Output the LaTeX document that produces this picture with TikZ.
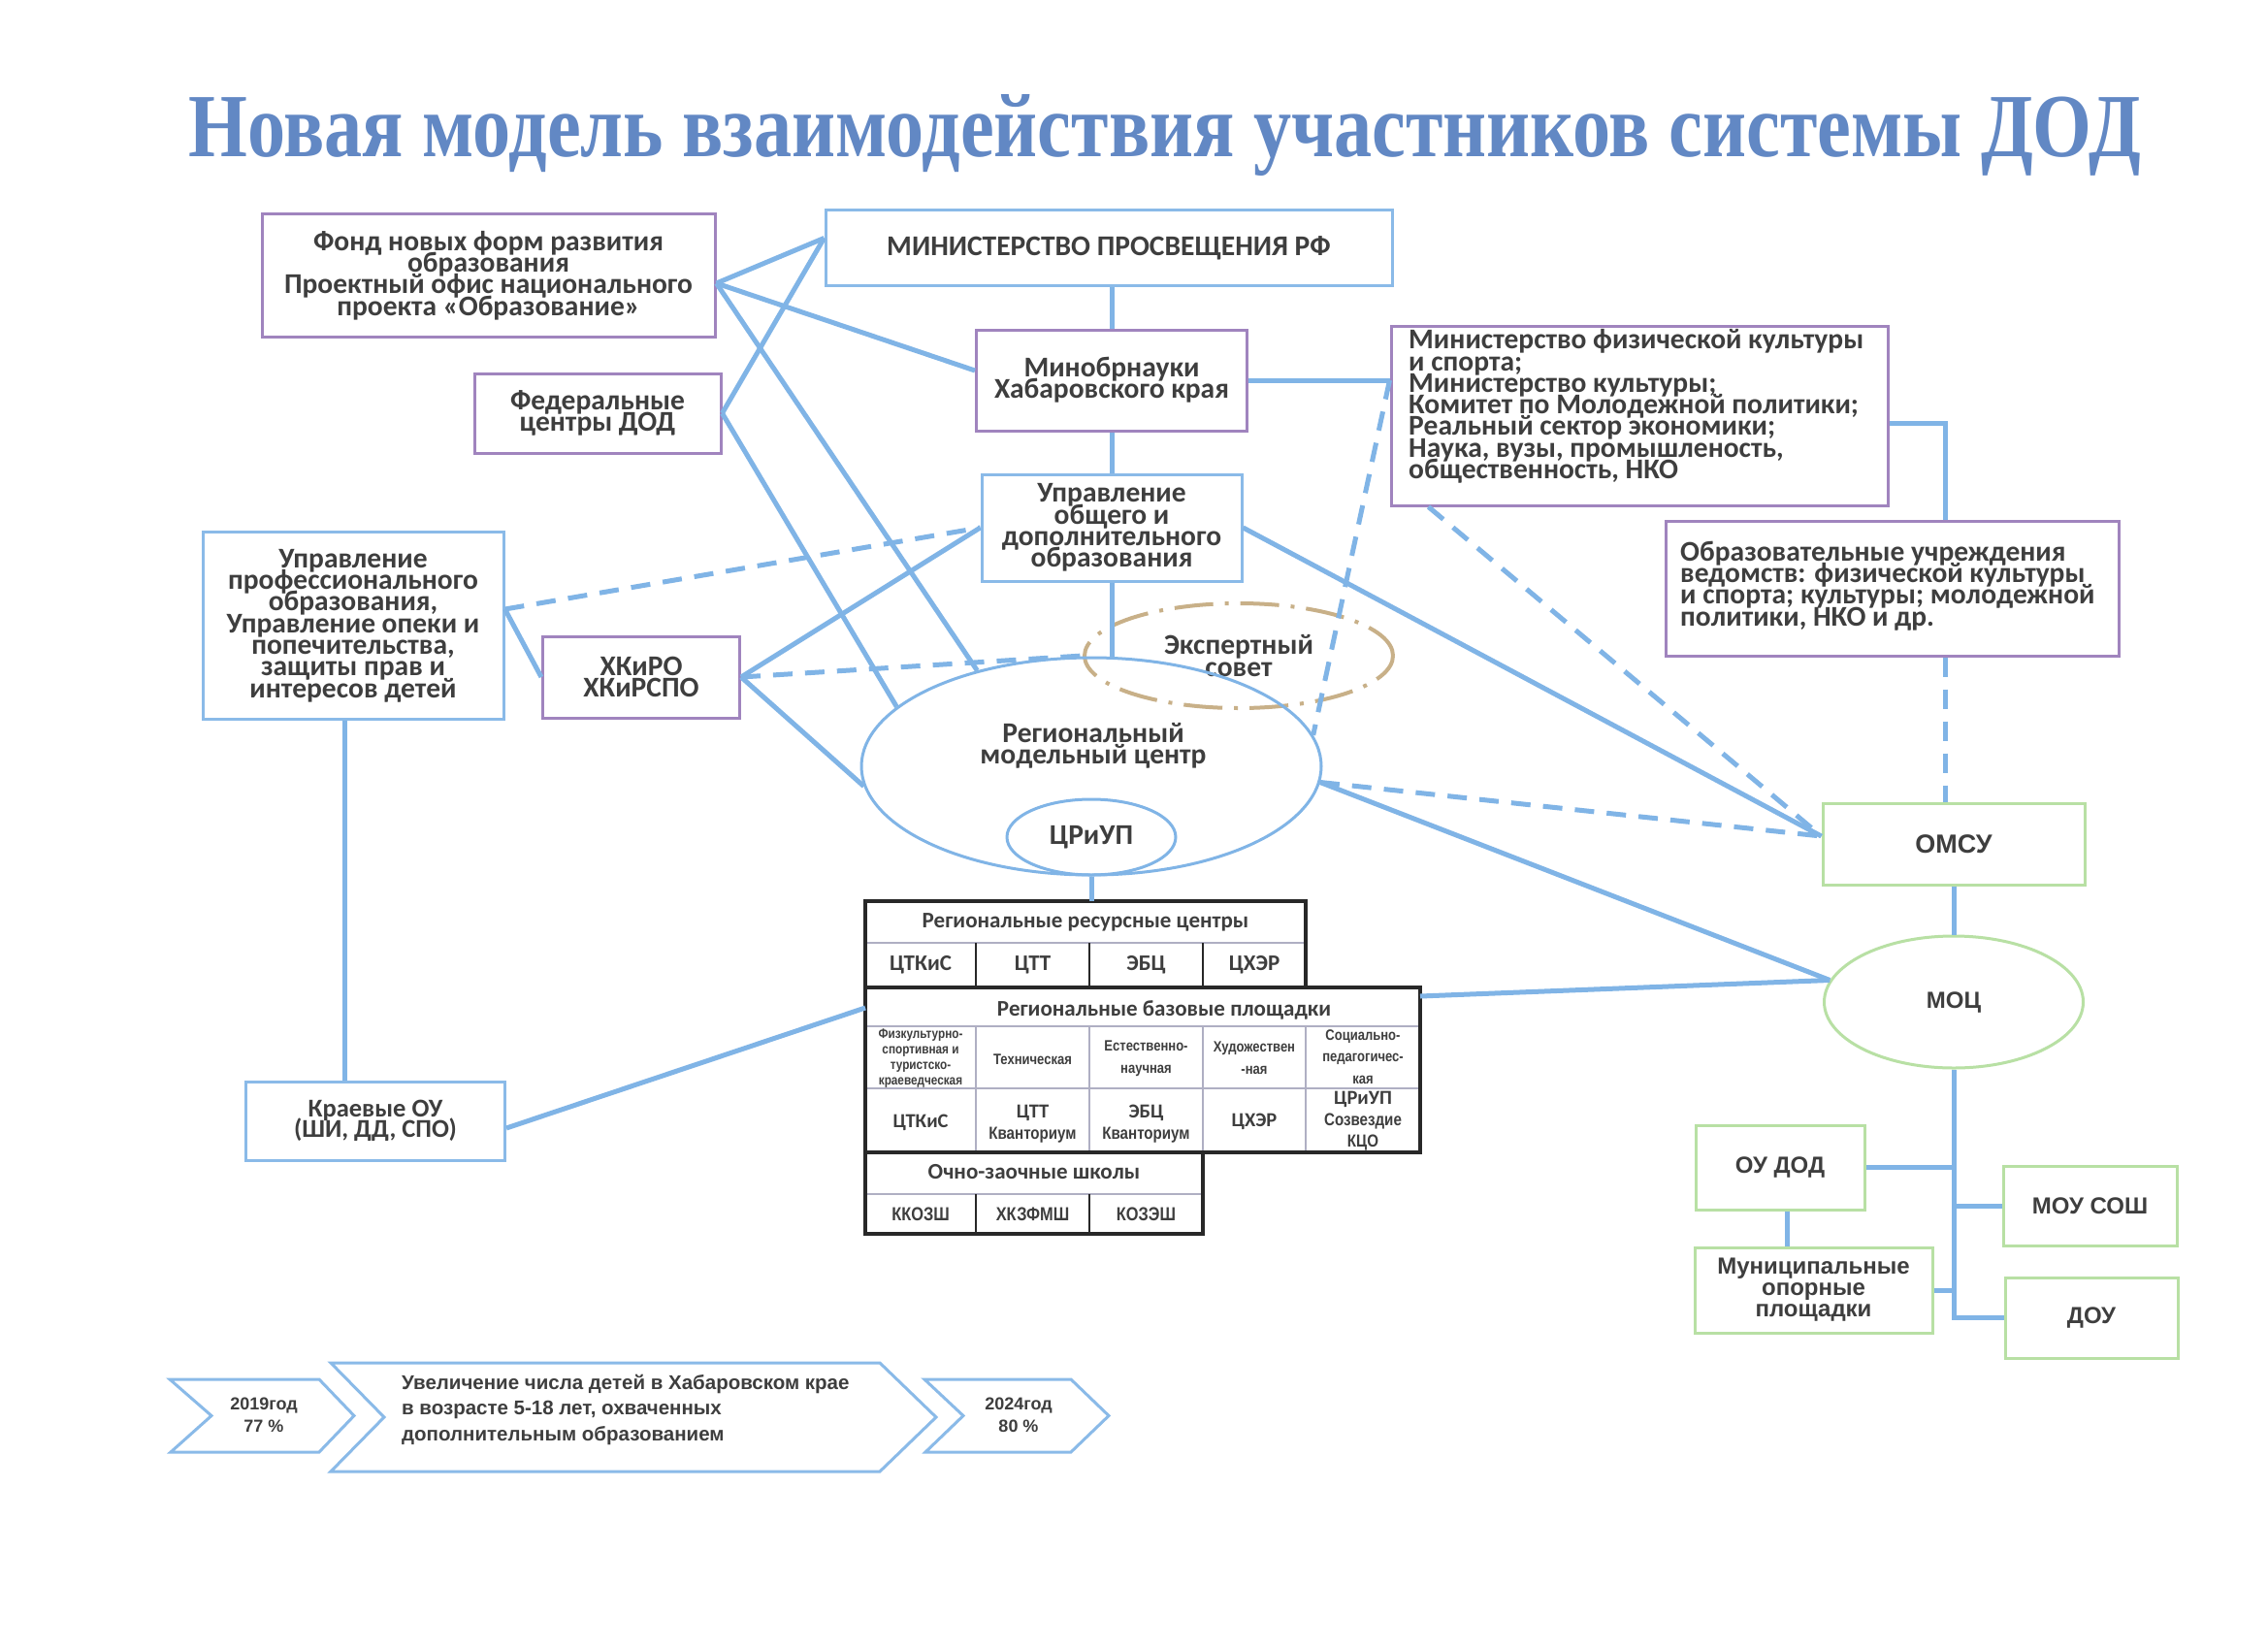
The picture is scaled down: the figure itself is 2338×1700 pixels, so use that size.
\documentclass[tikz,border=0pt]{standalone}
\usepackage{fontspec}
\usepackage{graphicx}
\setmainfont{Carlito}
\newfontfamily\arialf{Liberation Sans}
\newfontfamily\narrowf[FakeStretch=0.84]{Liberation Sans}
\newfontfamily\titlef{Liberation Serif}
\usetikzlibrary{shapes.geometric,calc}
\definecolor{lineblue}{RGB}{128,180,230}
\definecolor{boxblue}{RGB}{138,186,232}
\definecolor{boxpurple}{RGB}{160,132,190}
\definecolor{boxgreen}{RGB}{184,224,164}
\definecolor{tanc}{RGB}{200,176,136}
\definecolor{txt}{RGB}{62,62,62}
\definecolor{titleblue}{RGB}{98,136,196}
\definecolor{tabdark}{RGB}{40,40,40}
\definecolor{tabthin}{RGB}{175,175,195}
\AtBeginDocument{\setlength{\lineskiplimit}{-100pt}}
\tikzset{
  conn/.style={draw=lineblue, line width=5pt},
  dconn/.style={conn, dash pattern=on 20pt off 13pt},
  boxbase/.style={rectangle, inner sep=0pt, align=center, text=txt, fill=white, line width=3pt,
    font=\bfseries\fontsize{29.5}{22.3}\selectfont},
  bluebox/.style={boxbase, draw=boxblue},
  purplebox/.style={boxbase, draw=boxpurple},
  greenbox/.style={boxbase, draw=boxgreen, font=\arialf\bfseries\fontsize{24}{22}\selectfont},
  plaintxt/.style={inner sep=0pt, align=center, text=txt, font=\bfseries\fontsize{29.5}{22.3}\selectfont},
  lefttxt/.style={plaintxt, align=left, anchor=west},
  tabh/.style={inner sep=0pt, align=center, text=txt, font=\bfseries\fontsize{23}{22}\selectfont},
  tabc/.style={inner sep=0pt, align=center, text=txt, font=\bfseries\fontsize{23}{22}\selectfont},
  tabv/.style={inner sep=0pt, align=center, text=txt, font=\bfseries\fontsize{20.5}{22}\selectfont},
  tabs/.style={inner sep=0pt, align=center, text=txt, font=\narrowf\bfseries\fontsize{14}{16}\selectfont},
  tabm/.style={inner sep=0pt, align=center, text=txt, font=\narrowf\bfseries\fontsize{15.5}{22.5}\selectfont},
  tabq/.style={inner sep=0pt, align=center, text=txt, font=\narrowf\bfseries\fontsize{18}{22}\selectfont},
  tabo/.style={inner sep=0pt, align=center, text=txt, font=\narrowf\bfseries\fontsize{19.5}{22}\selectfont},
  tabthick/.style={draw=tabdark, line width=3.5pt},
  tabsep/.style={draw=tabdark, line width=2.5pt},
  tabfine/.style={draw=tabthin, line width=1.5pt},
  chev/.style={draw=boxblue, line width=3pt, line join=miter},
  chevtxt/.style={inner sep=0pt, align=center, text=txt, font=\arialf\bfseries\fontsize{18}{23}\selectfont},
  goaltxt/.style={inner sep=0pt, align=left, text=txt, font=\arialf\bfseries\fontsize{20.5}{26.5}\selectfont},
}
\begin{document}
\begin{tikzpicture}[x=1pt,y=-1pt]
\useasboundingbox (0,0) rectangle (2338,1700);
\fill[white] (0,0) rectangle (2338,1700);

% title
\node[anchor=base west, inner sep=0pt, text=titleblue] (title) at (194,161)
  {\resizebox{2012pt}{64pt}{\titlef\bfseries Новая модель взаимодействия участников системы ДОД}};

% boxes
\node[purplebox, minimum width=467pt, minimum height=127pt] (fond) at (503.5,284)
  {Фонд новых форм развития\\образования\\Проектный офис национального\\проекта «Образование»};
\node[bluebox, minimum width=584pt, minimum height=78pt] (min) at (1143,255.5) {МИНИСТЕРСТВО ПРОСВЕЩЕНИЯ РФ};
\node[purplebox, minimum width=279pt, minimum height=104pt] (minobr) at (1146,392) {Минобрнауки\\Хабаровского края};
\node[purplebox, minimum width=254pt, minimum height=82pt] (fed) at (616,426) {Федеральные\\центры ДОД};
\node[purplebox, minimum width=512pt, minimum height=185pt] (minfiz) at (1690,428.5) {};
\node[lefttxt] (minfiztxt) at (1452,419)
  {Министерство физической культуры\\и спорта;\\Министерство культуры;\\Комитет по Молодежной политики;\\Реальный сектор экономики;\\Наука, вузы, промышленость,\\общественность, НКО};
\node[bluebox, minimum width=268pt, minimum height=110pt] (uprobsh) at (1146,544)
  {Управление\\общего и\\дополнительного\\образования};
\node[bluebox, minimum width=310pt, minimum height=193pt] (uprprof) at (364,645)
  {Управление\\профессионального\\образования,\\Управление опеки и\\попечительства,\\защиты прав и\\интересов детей};
\node[purplebox, minimum width=203pt, minimum height=84pt] (hkiro) at (661,698) {ХКиРО\\ХКиРСПО};
\node[plaintxt, ellipse, draw=tanc, line width=4pt, dash pattern=on 40pt off 12pt on 4pt off 12pt,
  minimum width=318pt, minimum height=108pt] (eksp) at (1277,676) {Экспертный\\совет};
\node[ellipse, draw=lineblue, line width=3pt, minimum width=474pt, minimum height=224pt, inner sep=0pt] (region) at (1125,790) {};
\node[plaintxt] (regiontxt) at (1127,769) {Региональный\\модельный центр};
\node[plaintxt, ellipse, draw=lineblue, line width=3pt, minimum width=174pt, minimum height=78pt] (criup) at (1125,863) {ЦРиУП};
\node[purplebox, minimum width=467pt, minimum height=139pt] (obr) at (1951,606.5) {};
\node[lefttxt] (obrtxt) at (1732,604)
  {Образовательные учреждения\\ведомств: физической культуры\\и спорта; культуры; молодежной\\политики, НКО и др.};
\node[greenbox, minimum width=270pt, minimum height=84pt, font=\arialf\bfseries\fontsize{27}{22}\selectfont] (omsu) at (2014,870) {ОМСУ};
\node[greenbox, ellipse, minimum width=267pt, minimum height=136pt] (moc) at (2014,1033) {МОЦ};
\node[greenbox, minimum width=174pt, minimum height=87pt] (ouded) at (1835,1203.5) {ОУ ДОД};
\node[greenbox, minimum width=245pt, minimum height=88pt] (mun) at (1869.5,1330) {Муниципальные\\опорные\\площадки};
\node[greenbox, minimum width=179pt, minimum height=82pt] (mousosh) at (2154.5,1243) {МОУ СОШ};
\node[greenbox, minimum width=178pt, minimum height=83pt] (dou) at (2156,1358.5) {ДОУ};
\node[bluebox, minimum width=267pt, minimum height=81pt, font=\bfseries\fontsize{26.5}{21.5}\selectfont] (kraev) at (387,1155.5) {Краевые ОУ\\(ШИ, ДД, СПО)};

% table
\draw[tabfine] (892,972) -- (1346,972);
\draw[tabsep] (1006,972) -- (1006,1018) (1123,972) -- (1123,1018) (1240,972) -- (1240,1018);
\draw[tabfine] (892,1058) -- (1464,1058) (892,1122) -- (1464,1122);
\draw[tabfine] (1006,1058) -- (1006,1188) (1123,1058) -- (1123,1188) (1240,1058) -- (1240,1188) (1346,1058) -- (1346,1188);
\draw[tabfine] (892,1231) -- (1240,1231);
\draw[tabsep] (1006,1231) -- (1006,1272) (1123,1231) -- (1123,1272);
\draw[tabthick] (892,929) rectangle (1346,1018);
\draw[tabthick] (892,1018) rectangle (1464,1188);
\draw[tabthick] (892,1188) rectangle (1240,1272);

\node[tabh] (rrch) at (1119,951) {Региональные ресурсные центры};
\node[tabc] (rrc1) at (949,995) {ЦТКиС};
\node[tabc] (rrc2) at (1064.5,995) {ЦТТ};
\node[tabc] (rrc3) at (1181.5,995) {ЭБЦ};
\node[tabc] (rrc4) at (1293,995) {ЦХЭР};
\node[tabh] (rbph) at (1200,1041) {Региональные базовые площадки};
\node[tabs] (cat1) at (949,1091) {Физкультурно-\\спортивная и\\туристско-\\краеведческая};
\node[tabm] (cat2) at (1064.5,1092) {Техническая};
\node[tabm] (cat3) at (1181.5,1091.5) {Естественно-\\научная};
\node[tabm] (cat4) at (1293,1090.5) {Художествен\\-ная};
\node[tabm] (cat5) at (1405,1089.5) {Социально-\\педагогичес-\\кая};
\node[tabv] (val1) at (949,1157) {ЦТКиС};
\node[tabv] (val2a) at (1064.5,1147) {ЦТТ};
\node[tabq] (val2b) at (1064.5,1170) {Кванториум};
\node[tabv] (val3a) at (1181.5,1147) {ЭБЦ};
\node[tabq] (val3b) at (1181.5,1170) {Кванториум};
\node[tabv] (val4) at (1293,1156) {ЦХЭР};
\node[tabv] (val5a) at (1405,1133) {ЦРиУП};
\node[tabq] (val5b) at (1405,1156) {Созвездие};
\node[tabq] (val5c) at (1405,1178) {КЦО};
\node[tabh] (ozh) at (1066,1208) {Очно-заочные школы};
\node[tabo] (oz1) at (949,1252) {ККОЗШ};
\node[tabo] (oz2) at (1064.5,1252) {ХКЗФМШ};
\node[tabo] (oz3) at (1181.5,1252) {КОЗЭШ};

% connectors
\draw[conn] (minobr.north) -- (minobr.north |- min.south);
\draw[conn] (minobr.south) -- (uprobsh.north);
\draw[conn] (uprobsh.south) -- (uprobsh.south |- region.north);
\coordinate (minL) at ([yshift=10pt]min.west);
\coordinate (fondR) at ([yshift=-8pt]fond.east);
\draw[conn] (fondR) -- (minL);
\draw[conn] (fondR) -- ([yshift=10pt]minobr.west);
\draw[conn] (fondR) -- (region.140);
\draw[conn] (fed.east) -- (minL);
\draw[conn] (fed.east) -- (region.163);
\coordinate (profR) at ([yshift=17pt]uprprof.east);
\draw[dconn] (profR) -- (uprobsh.west);
\draw[conn] (profR) -- (hkiro.west);
\draw[conn] (hkiro.east) -- (uprobsh.west);
\draw[dconn] (hkiro.east) -- (eksp.west);
\draw[conn] (hkiro.east) -- (region.185);
\coordinate (fizL) at (minobr.east -| minfiz.west);
\draw[conn] (minobr.east) -- (fizL);
\coordinate (omsuL) at ([yshift=8pt]omsu.west);
\draw[conn] (uprobsh.east) -- (omsuL);
\draw[dconn] ([xshift=40pt]minfiz.south west) -- (omsuL);
\draw[dconn] (fizL) -- (region.8);
\draw[dconn] (region.356) -- (omsuL);
\draw[conn] (region.356) -- (moc.170);
\coordinate (rbpR) at (1464,1027);
\draw[conn] (rbpR) -- (moc.170);
\coordinate (rbpL) at (892,1039);
\draw[conn] (rbpL) -- ([yshift=-7.5pt]kraev.east);
\draw[conn] ([xshift=-9pt]uprprof.south) -- ([xshift=-9pt]uprprof.south |- kraev.north);
\coordinate (tabT) at (1125,929);
\draw[conn] (region.south) -- (tabT);
\coordinate (obrN) at ([xshift=54.5pt]obr.north);
\draw[conn] ([yshift=-8pt]minfiz.east) -| (obrN);
\draw[dconn] ([xshift=54.5pt]obr.south) -- ([xshift=54.5pt]obr.south |- omsu.north);
\draw[conn] (omsu.south) -- (moc.north);
\draw[conn] (moc.south) -- (moc.south |- dou.west) -- (dou.west);
\draw[conn] (ouded.east) -- (ouded.east -| moc.south);
\draw[conn] (mousosh.west) -- (mousosh.west -| moc.south);
\draw[conn] (mun.east) -- (mun.east -| moc.south);
\draw[conn] ([xshift=7pt]ouded.south) -- ([xshift=7pt]ouded.south |- mun.north);

% chevrons
\draw[chev] (175,1422) -- (329,1422) -- (365,1459.5) -- (329,1497) -- (176,1497) -- (218,1459.5) -- cycle;
\draw[chev] (341,1405) -- (907,1405) -- (965,1461) -- (907,1517) -- (341,1517) -- (396,1461) -- cycle;
\draw[chev] (953,1422) -- (1104,1422) -- (1143,1459.5) -- (1104,1497) -- (954,1497) -- (993,1459.5) -- cycle;
\node[chevtxt] (y2019) at (272,1459) {2019год\\77 \%};
\node[goaltxt, anchor=west] (goal) at (414,1453)
  {Увеличение числа детей в Хабаровском крае\\в возрасте 5-18 лет, охваченных\\дополнительным образованием};
\node[chevtxt] (y2024) at (1050,1459) {2024год\\80 \%};
\end{tikzpicture}
\end{document}
